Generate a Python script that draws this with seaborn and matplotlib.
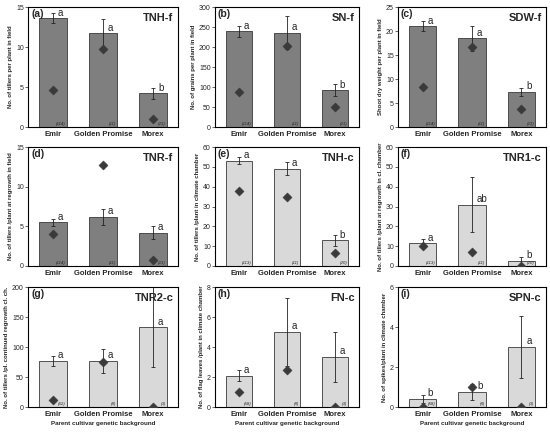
import seaborn as sns
import pandas as pd
import matplotlib.pyplot as plt

cultivars = ["Emir", "Golden Promise", "Morex"]

# (a) TNH-f
tnh_f_mean = [13.6, 11.7, 4.2]
tnh_f_err = [0.65, 1.8, 0.7]
tnh_f_dot = [4.6, 9.7, 1.0]
tnh_f_sig = ["a", "a", "b"]
tnh_f_n = ["(114)", "(11)", "(21)"]

# (b) SN-f
sn_f_mean = [239, 236, 92]
sn_f_err = [14, 42, 15]
sn_f_dot = [88, 202, 49]
sn_f_sig = ["a", "a", "b"]
sn_f_n = ["(114)", "(11)", "(21)"]

# (c) SDW-f
sdw_f_mean = [21.0, 18.5, 7.3]
sdw_f_err = [1.0, 2.6, 0.9]
sdw_f_dot = [8.3, 16.7, 3.8]
sdw_f_sig = ["a", "a", "b"]
sdw_f_n = ["(114)", "(11)", "(21)"]

# (d) TNR-f
tnr_f_mean = [5.5, 6.2, 4.2]
tnr_f_err = [0.45, 1.0, 0.85]
tnr_f_dot = [4.0, 12.7, 0.7]
tnr_f_sig = ["a", "a", "a"]
tnr_f_n = ["(114)", "(11)", "(21)"]

# (e) TNH-c
tnh_c_mean = [53, 49, 13]
tnh_c_err = [1.8, 3.3, 2.8]
tnh_c_dot = [38, 35, 6.5]
tnh_c_sig = ["a", "a", "b"]
tnh_c_n = ["(113)", "(11)", "(20)"]

# (f) TNR1-c
tnr1_c_mean = [11.5, 31, 2.5]
tnr1_c_err = [2.0, 13.8, 2.2]
tnr1_c_dot = [10, 7, 0]
tnr1_c_sig = ["a", "ab", "b"]
tnr1_c_n = ["(113)", "(11)", "(20)"]

# (g) TNR2-c
tnr2_c_mean = [77, 77, 133]
tnr2_c_err = [8, 20, 67]
tnr2_c_dot = [11, 75, 0]
tnr2_c_sig = ["a", "a", "a"]
tnr2_c_n = ["(62)", "(8)", "(3)"]

# (h) FN-c
fn_c_mean = [2.1, 5.0, 3.35]
fn_c_err = [0.35, 2.25, 1.65]
fn_c_dot = [1.0, 2.5, 0]
fn_c_sig = ["a", "a", "a"]
fn_c_n = ["(58)", "(8)", "(3)"]

# (i) SPN-c
spn_c_mean = [0.42, 0.75, 3.0]
spn_c_err = [0.2, 0.4, 1.55]
spn_c_dot = [0, 1.0, 0]
spn_c_sig = ["b", "b", "a"]
spn_c_n = ["(58)", "(8)", "(3)"]

panels = [
    ("(a)", "TNH-f", "No. of tillers per plant in field", tnh_f_mean, tnh_f_err, tnh_f_dot, tnh_f_sig, tnh_f_n, 15, 5, True),
    ("(b)", "SN-f", "No. of grains per plant in field", sn_f_mean, sn_f_err, sn_f_dot, sn_f_sig, sn_f_n, 300, 50, True),
    ("(c)", "SDW-f", "Shoot dry weight per plant in field", sdw_f_mean, sdw_f_err, sdw_f_dot, sdw_f_sig, sdw_f_n, 25, 5, True),
    ("(d)", "TNR-f", "No. of tillers /plant at regrowth in field", tnr_f_mean, tnr_f_err, tnr_f_dot, tnr_f_sig, tnr_f_n, 15, 5, True),
    ("(e)", "TNH-c", "No. of tillers /plant in climate chamber", tnh_c_mean, tnh_c_err, tnh_c_dot, tnh_c_sig, tnh_c_n, 60, 10, False),
    ("(f)", "TNR1-c", "No. of tillers /plant at regrowth in cl. chamber", tnr1_c_mean, tnr1_c_err, tnr1_c_dot, tnr1_c_sig, tnr1_c_n, 60, 10, False),
    ("(g)", "TNR2-c", "No. of tillers /pl. continued regrowth cl. ch.", tnr2_c_mean, tnr2_c_err, tnr2_c_dot, tnr2_c_sig, tnr2_c_n, 200, 50, False),
    ("(h)", "FN-c", "No. of flag leaves /plant in climate chamber", fn_c_mean, fn_c_err, fn_c_dot, fn_c_sig, fn_c_n, 8, 2, False),
    ("(i)", "SPN-c", "No. of spikes/plant in climate chamber", spn_c_mean, spn_c_err, spn_c_dot, spn_c_sig, spn_c_n, 6, 2, False),
]

sns.set_style("white")
plt.rcParams['font.family'] = ['Liberation Sans', 'DejaVu Sans']

W, H = 550, 434
fig = plt.figure(figsize=(5.5, 4.34), dpi=100)

cols = [(28, 178), (215, 359), (398, 546)]
rows = [(7, 127), (147, 266), (287, 407)]

for k, (lab, title, ylab, mean, err, dot, sig, n, ymax, step, dark) in enumerate(panels):
    r, c = divmod(k, 3)
    x0, x1 = cols[c]
    y0, y1 = rows[r]
    ax = fig.add_axes([x0 / W, 1 - y1 / H, (x1 - x0) / W, (y1 - y0) / H])
    df = pd.DataFrame({"cultivar": cultivars, "value": mean, "err": err, "dot": dot})
    sns.barplot(data=df, x="cultivar", y="value", color="#7f7f7f" if dark else "#d9d9d9",
                saturation=1, width=0.55, errorbar=None, edgecolor="#3a3a3a", linewidth=0.6, ax=ax)
    ax.errorbar(range(3), mean, yerr=err, fmt="none", ecolor="#222222", elinewidth=0.6,
                capsize=1.5, capthick=0.6)
    sns.scatterplot(data=df, x="cultivar", y="dot", marker="D", s=22, color="#3a3a3a",
                    edgecolor="#3a3a3a", linewidth=0.3, ax=ax, zorder=5)
    for i in range(3):
        ax.text(i + 0.1, mean[i] + ymax * 0.005, sig[i], fontsize=7, ha="left", va="bottom")
        ax.text(i + 0.26, ymax * 0.008, n[i], fontsize=3.2, style="italic", ha="right", va="bottom")
    ax.set_xlim(-0.5, 2.5)
    ax.set_ylim(0, ymax)
    ax.set_yticks(range(0, ymax + 1, step))
    ax.tick_params(axis="y", labelsize=5, length=2, width=0.5, pad=1, direction="out", left=True)
    ax.tick_params(axis="x", labelsize=5.5, length=0, pad=3)
    for t in ax.get_xticklabels():
        t.set_fontweight("bold")
    ax.set_xlabel("Parent cultivar genetic background" if r == 2 else "", fontsize=4.5, fontweight="bold", labelpad=2)
    ax.set_ylabel(ylab, fontsize=4.3, fontweight="bold", labelpad=2)
    ax.text(0.02, 0.98, lab, transform=ax.transAxes, fontsize=7.5, fontweight="bold", ha="left", va="top")
    ax.text(0.97, 0.95, title, transform=ax.transAxes, fontsize=8, fontweight="bold", ha="right", va="top")
    for s in ax.spines.values():
        s.set_color("black")
        s.set_linewidth(0.8)

fig.savefig("out.png", dpi=100)
